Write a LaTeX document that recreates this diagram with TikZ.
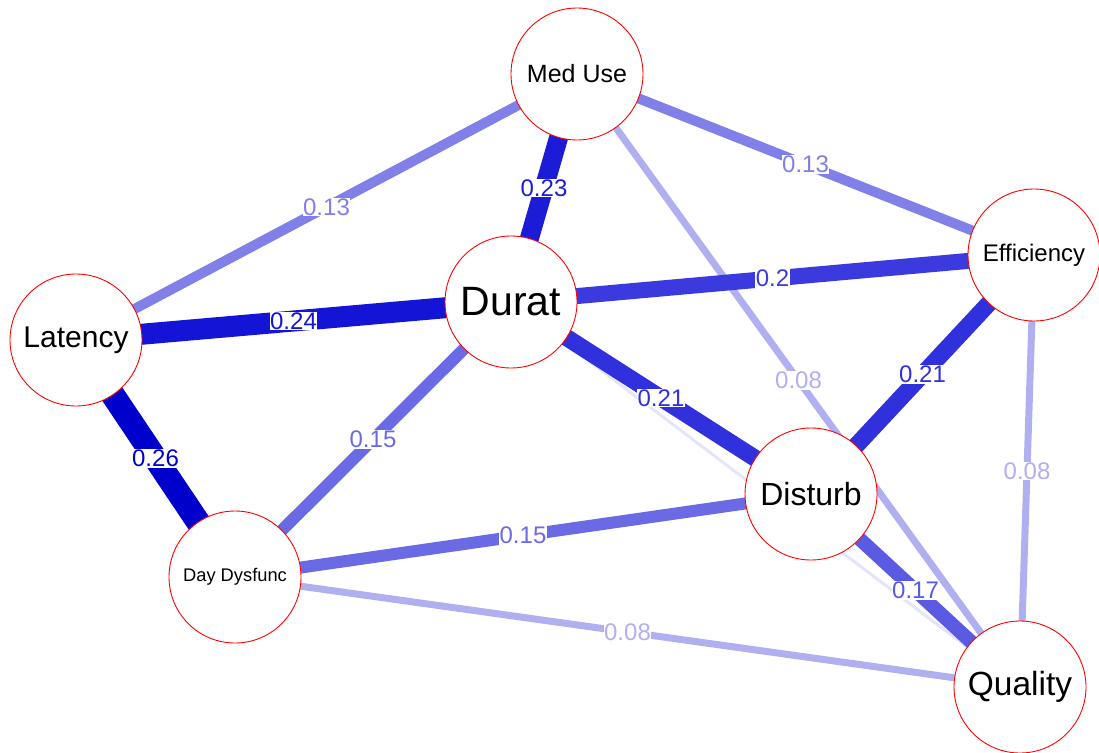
\documentclass[tikz,border=0pt]{standalone}
\usepackage{fontspec}
\setmainfont{Liberation Sans}
\begin{document}
\begin{tikzpicture}[x=1pt,y=-1pt,
  var/.style={circle,draw=red,line width=0.9pt,fill=white,minimum size=132pt,inner sep=0pt,text=black},
  elabel/.style={fill=white,inner sep=0.6pt,font=\fontsize{24}{24}\selectfont},
  edge/.style={line cap=butt}]
\definecolor{w26}{HTML}{0000CC}
\definecolor{w24}{HTML}{1414D6}
\definecolor{w23}{HTML}{1C1CD8}
\definecolor{w21}{HTML}{3030DC}
\definecolor{w20}{HTML}{3A3ADE}
\definecolor{w17}{HTML}{5A5AE2}
\definecolor{w15}{HTML}{6A6AE4}
\definecolor{w13}{HTML}{8080E8}
\definecolor{w08}{HTML}{B0B0F0}
\definecolor{w02}{HTML}{E4E4FA}
\useasboundingbox (0,0) rectangle (1099,752);

% variable positions
\coordinate (pMed) at (577,74);
\coordinate (pDur) at (511,302);
\coordinate (pEff) at (1034,255);
\coordinate (pLat) at (76,340);
\coordinate (pDis) at (811,494);
\coordinate (pDay) at (235,577);
\coordinate (pQua) at (1020,687);

% weakest edges first
\draw[edge,w02,line width=3pt] (pDur) -- (pQua);
\draw[edge,w08,line width=7pt] (pMed) -- node[elabel,text=w08]{0.08} (pQua);
\draw[edge,w08,line width=7pt] (pEff) -- node[elabel,text=w08]{0.08} (pQua);
\draw[edge,w08,line width=7pt] (pDay) -- node[elabel,text=w08]{0.08} (pQua);
\draw[edge,w13,line width=10pt] (pMed) -- node[elabel,text=w13]{0.13} (pLat);
\draw[edge,w13,line width=10pt] (pMed) -- node[elabel,text=w13]{0.13} (pEff);
\draw[edge,w15,line width=12pt] (pDur) -- node[elabel,text=w15]{0.15} (pDay);
\draw[edge,w15,line width=12pt] (pDis) -- node[elabel,text=w15]{0.15} (pDay);
\draw[edge,w17,line width=14pt] (pDis) -- node[elabel,text=w17]{0.17} (pQua);
\draw[edge,w20,line width=16pt] (pDur) -- node[elabel,text=w20]{0.2} (pEff);
\draw[edge,w21,line width=17pt] (pDur) -- node[elabel,text=w21]{0.21} (pDis);
\draw[edge,w21,line width=17pt] (pEff) -- node[elabel,text=w21]{0.21} (pDis);
\draw[edge,w23,line width=19pt] (pMed) -- node[elabel,text=w23]{0.23} (pDur);
\draw[edge,w24,line width=21pt] (pLat) -- node[elabel,text=w24]{0.24} (pDur);
\draw[edge,w26,line width=24pt] (pLat) -- node[elabel,text=w26]{0.26} (pDay);

% variables
\node[var,font=\fontsize{25}{25}\selectfont] (med) at (pMed) {Med Use};
\node[var,font=\fontsize{41}{41}\selectfont] (dur) at (pDur) {Durat};
\node[var,font=\fontsize{24}{24}\selectfont] (eff) at (pEff) {Efficiency};
\node[var,font=\fontsize{30}{30}\selectfont] (lat) at (pLat) {Latency};
\node[var,font=\fontsize{32}{32}\selectfont] (dis) at (pDis) {Disturb};
\node[var,font=\fontsize{18.3}{18.3}\selectfont] (day) at (pDay) {Day Dysfunc};
\node[var,font=\fontsize{33.5}{33.5}\selectfont] (qua) at (pQua) {Quality};
\end{tikzpicture}
\end{document}
